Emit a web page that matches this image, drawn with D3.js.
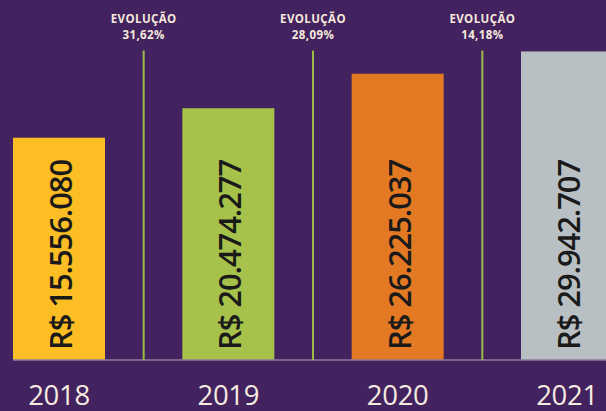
<!DOCTYPE html>
<html>
<head>
<meta charset="utf-8">
<script src="https://cdn.jsdelivr.net/npm/d3@7"></script>
<style>
  html, body { margin: 0; padding: 0; background: #42235f; }
  svg { display: block; }
</style>
</head>
<body>
<svg id="chart" width="606" height="411"></svg>
<script>
// Faturamento anual e evolução ano a ano
const years = ["2018", "2019", "2020", "2021"];
const values = [15556080, 20474277, 26225037, 29942707];
const growthLabels = ["31,62%", "28,09%", "14,18%"];
const barColors = ["#fdbd24", "#a6c24b", "#e47923", "#b9c0c3"];

const W = 606, H = 411;
const baseY = 360;

const svg = d3.select("#chart");
svg.append("rect").attr("width", W).attr("height", H).attr("fill", "#42235f");

const ptBR = d3.formatLocale({
  decimal: ",", thousands: ".", grouping: [3], currency: ["R$ ", ""]
});
const money = ptBR.format("$,.0f");

// Bars sit on a shared baseline; the value axis starts below zero so that
// even the smallest bar keeps a tall column for its rotated label.
const x = d3.scaleBand().domain(years).range([13, 613])
  .paddingInner(0.4567).paddingOuter(0);
const y = d3.scaleLinear().domain([-21.5e6, 30e6]).range([baseY, 51.1]);

// bars
svg.append("g").selectAll("rect")
  .data(years)
  .join("rect")
  .attr("x", d => x(d))
  .attr("y", (d, i) => y(values[i]))
  .attr("width", x.bandwidth())
  .attr("height", (d, i) => baseY - y(values[i]))
  .attr("fill", (d, i) => barColors[i]);

// baseline
svg.append("line")
  .attr("x1", 13).attr("x2", W)
  .attr("y1", baseY).attr("y2", baseY)
  .attr("stroke", "#8d7da0").attr("stroke-width", 1.5);

// rotated value labels inside the bars
svg.append("g").selectAll("text")
  .data(years)
  .join("text")
  .attr("transform", d => `translate(${x(d) + x.bandwidth() / 2 + 13},${baseY - 10}) rotate(-90)`)
  .attr("text-anchor", "start")
  .attr("font-family", "'Open Sans', sans-serif")
  .attr("font-weight", 600)
  .attr("font-size", 31)
  .attr("letter-spacing", -1.1)
  .attr("fill", "#1b1a1a")
  .text((d, i) => money(values[i]));

// separators between consecutive years, with the growth rate above
const gaps = years.slice(1).map((d, i) => ({
  x: (x(years[i]) + x.bandwidth() + x(d)) / 2,
  label: growthLabels[i]
}));
const topY = y(d3.max(values));

const sep = svg.append("g").selectAll("g").data(gaps).join("g");
sep.append("line")
  .attr("x1", d => d.x).attr("x2", d => d.x)
  .attr("y1", topY - 1).attr("y2", baseY)
  .attr("stroke", "#9cbb46").attr("stroke-width", 2);
const growthText = sep.append("text")
  .attr("text-anchor", "middle")
  .attr("font-family", "'Open Sans', sans-serif")
  .attr("font-weight", 700).attr("font-size", 11.5)
  .attr("letter-spacing", 0.4)
  .attr("fill", "#f6e8dc");
growthText.append("tspan")
  .attr("x", d => d.x).attr("y", 22.5)
  .text("EVOLUÇÃO");
growthText.append("tspan")
  .attr("x", d => d.x).attr("y", 38.5)
  .text(d => d.label);

// year labels under each bar
svg.append("g").selectAll("text")
  .data(years)
  .join("text")
  .attr("x", d => x(d) + x.bandwidth() / 2)
  .attr("y", 404.5)
  .attr("text-anchor", "middle")
  .attr("font-family", "'Open Sans', sans-serif")
  .attr("font-weight", 500)
  .attr("font-size", 27.5)
  .attr("letter-spacing", -0.3)
  .attr("fill", "#f7ebe0")
  .text(d => d);
</script>
</body>
</html>
